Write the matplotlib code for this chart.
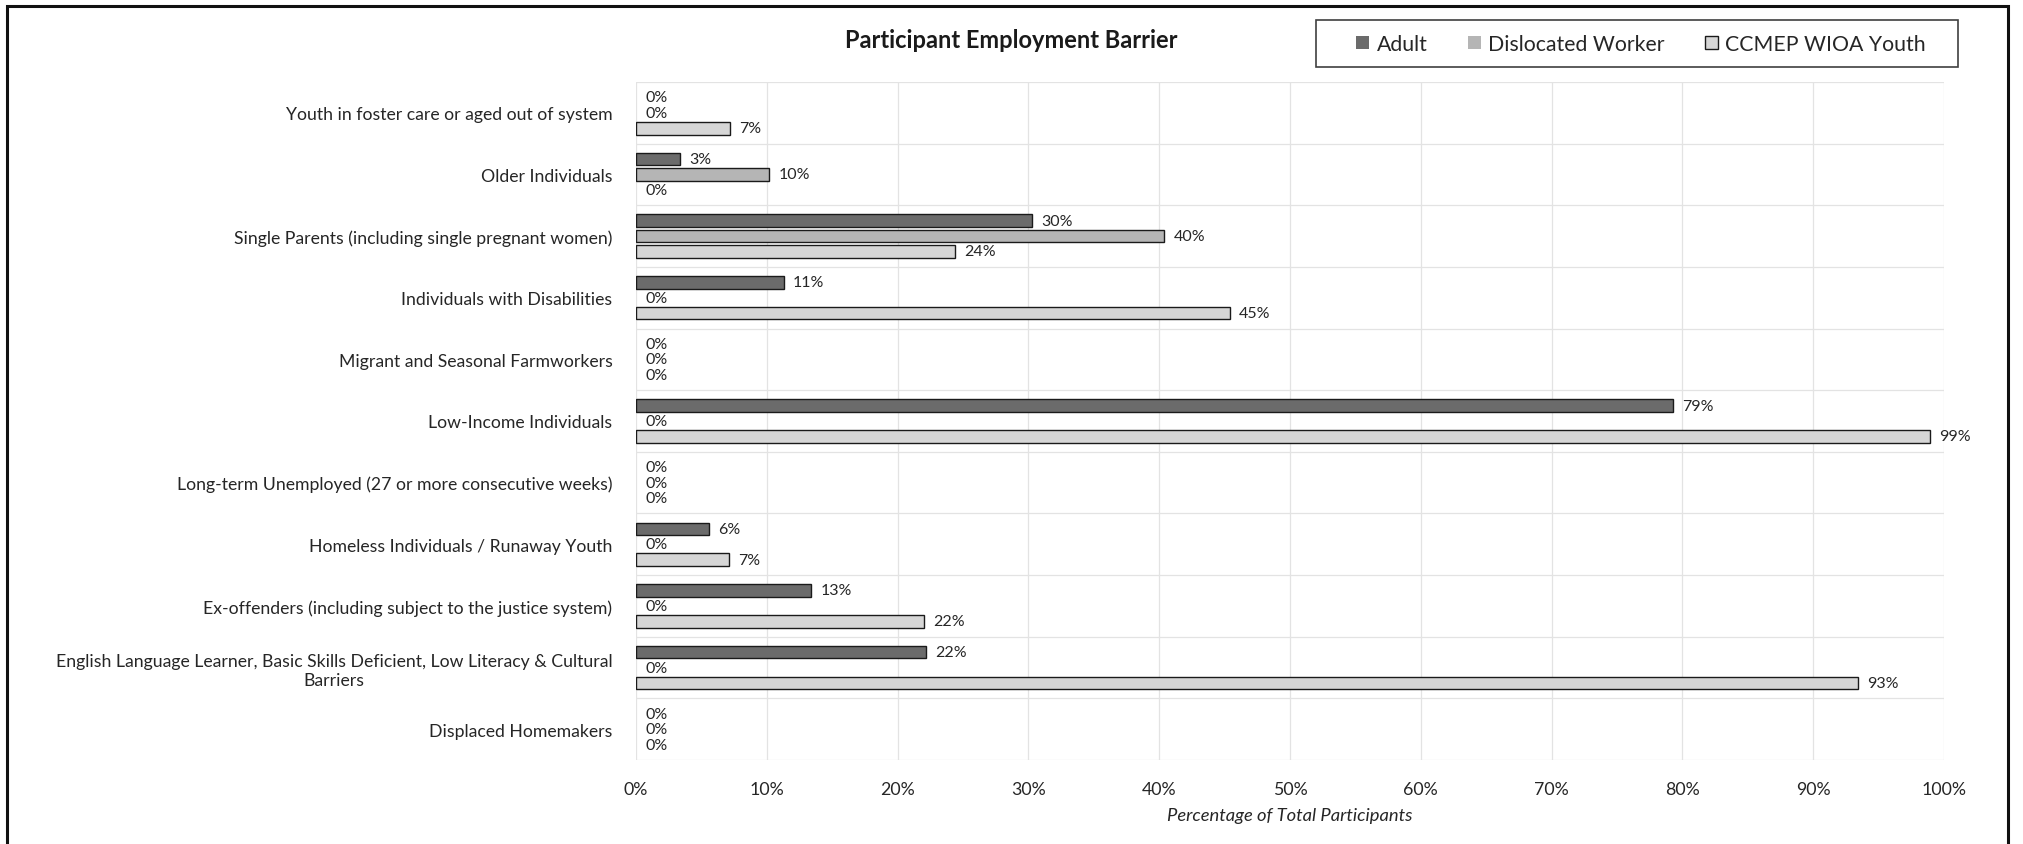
import matplotlib
matplotlib.use("Agg")
import matplotlib.pyplot as plt
from matplotlib.patches import Rectangle
import numpy as np

categories = [
    "Youth in foster care or aged out of system",
    "Older Individuals",
    "Single Parents (including single pregnant women)",
    "Individuals with Disabilities",
    "Migrant and Seasonal Farmworkers",
    "Low-Income Individuals",
    "Long-term Unemployed (27 or more consecutive weeks)",
    "Homeless Individuals / Runaway Youth",
    "Ex-offenders (including subject to the justice system)",
    "English Language Learner, Basic Skills Deficient, Low Literacy & Cultural\nBarriers",
    "Displaced Homemakers",
]
series_names = ["Adult", "Dislocated Worker", "CCMEP WIOA Youth"]
adult = [0, 3.4, 30.3, 11.3, 0, 79.3, 0, 5.6, 13.4, 22.2, 0]
dislocated = [0, 10.2, 40.4, 0, 0, 0, 0, 0, 0, 0, 0]
youth = [7.2, 0, 24.4, 45.4, 0, 98.9, 0, 7.1, 22.0, 93.4, 0]
x_ticks = [0, 10, 20, 30, 40, 50, 60, 70, 80, 90, 100]
x_tick_labels = ["0%", "10%", "20%", "30%", "40%", "50%", "60%", "70%", "80%", "90%", "100%"]

colors = ["#6b6b6b", "#b5b5b5", "#d6d6d6"]
FONT = "Lato"

W, H = 2023, 845
fig = plt.figure(figsize=(W / 100, H / 100), dpi=100)
fig.patch.set_facecolor("white")
ax = fig.add_axes([636 / W, 1 - 761 / H, (1944 - 636) / W, (761 - 83) / H])

n = len(categories)
y = np.arange(n)
offsets = [-0.25, 0.0, 0.25]
bar_h = 0.205
for vals, off, col, name in zip([adult, dislocated, youth], offsets, colors, series_names):
    bars = ax.barh(y + off, vals, height=bar_h, color=col, edgecolor="#1a1a1a",
                   linewidth=1.0, label=name, zorder=3)
    for b, v in zip(bars, vals):
        if v == 0:
            b.set_linewidth(0)
    for v, yy in zip(vals, y + off):
        ax.annotate(f"{v:.0f}%", xy=(v, yy), xytext=(6.5, 0), textcoords="offset points",
                    ha="left", va="center", fontsize=11.5, family=FONT, color="#262626",
                    zorder=4)

ax.set_xlim(0, 100)
ax.set_ylim(n - 0.5, -0.5)
ax.set_xticks(x_ticks)
ax.set_xticklabels(x_tick_labels, family=FONT, fontsize=12.8, color="#262626")
ax.set_yticks(y)
ax.set_yticklabels(categories, family=FONT, fontsize=12.7, color="#262626")
for lbl in ax.get_yticklabels():
    lbl.set_multialignment("center")
ax.tick_params(axis="both", length=0)
ax.tick_params(axis="y", pad=17)
ax.tick_params(axis="x", pad=15)

# gridlines
ax.grid(axis="x", color="#e3e3e3", linewidth=0.9, zorder=0)
ax.set_yticks(np.arange(-0.5, n, 1.0), minor=True)
ax.tick_params(axis="y", which="minor", length=0)
ax.grid(axis="y", which="minor", color="#e3e3e3", linewidth=0.9, zorder=0)
for s in ax.spines.values():
    s.set_visible(False)

ax.set_xlabel("Percentage of Total Participants", family=FONT, style="italic",
              fontsize=13.2, color="#262626", labelpad=7)

fig.text(0.5, 1 - 40 / H, "Participant Employment Barrier", ha="center", va="center",
         family=FONT, fontweight="bold", fontsize=17, color="#1a1a1a")

# legend box drawn separately to match the wide padding
lx0, lx1, ly0, ly1 = 1316, 1958, 21, 68
fig.add_artist(Rectangle((lx0 / W, 1 - ly1 / H), (lx1 - lx0) / W, (ly1 - ly0) / H,
                         transform=fig.transFigure, fill=False, edgecolor="#404040",
                         linewidth=1.2))
leg = fig.legend(loc="center", bbox_to_anchor=((lx0 + lx1) / 2 / W + 0.002, 1 - 45 / H),
                 ncol=3, frameon=False, prop={"family": FONT, "size": 15.3},
                 handlelength=0.6, handleheight=0.6, handletextpad=0.35,
                 columnspacing=1.9, borderpad=0.2)
for t in leg.get_texts():
    t.set_color("#262626")

# outer frame (left, top, right visible; bottom beyond the image)
fig.add_artist(Rectangle((7 / W, -0.1), (2008 - 7) / W, 1.1 - 7 / H,
                         transform=fig.transFigure, fill=False, edgecolor="#111111",
                         linewidth=2.2, clip_on=False))

fig.savefig("out.png", dpi=100, facecolor="white")
